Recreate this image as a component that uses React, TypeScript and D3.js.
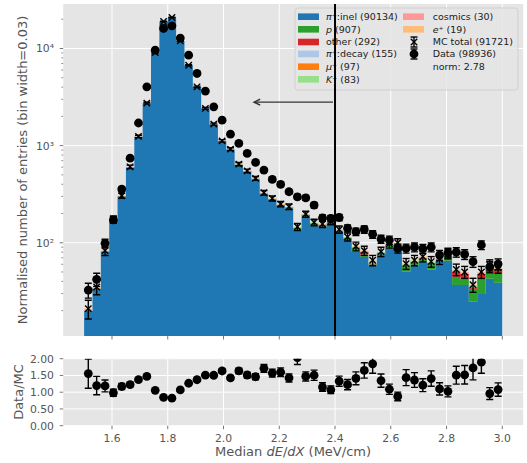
import React from "react";
import * as d3 from "d3";

// ---- data ----
const edges = d3.range(51).map((i) => +(1.5 + 0.03 * i).toFixed(2));
const xTicks = [1.6, 1.8, 2.0, 2.2, 2.4, 2.6, 2.8, 3.0];
const ratioTicks = [0, 0.5, 1, 1.5, 2];
const yMajor = [100, 1000, 10000];
const yTickLabels = ["10²", "10³", "10⁴"];

const piInel = [19.8, 33.5, 80.8, 171.6, 300, 597, 1232, 2722, 9070, 18917,
  20792, 11930, 6697, 4003, 2393, 1645, 1103, 904, 630.5, 536.4,
  447.1, 315.4, 275, 239.1, 224.7, 136.8, 186.8, 152.9, 146.9, 156.9,
  130, 109, 80.1, 71.6, 58, 76.1, 87.6, 91.7, 50.2, 58.2,
  63.7, 52.7, 63.2, 65.2, 36.7, 36.7, 24.7, 29.7, 42.7, 38.7];
const proton = [0.02, 0.05, 0.1, 0.2, 0.4, 0.8, 1.5, 3, 8, 15,
  20, 18, 15, 12, 10, 9, 8, 8, 7, 7,
  7, 6, 6, 6, 6, 5, 6, 5, 5, 5,
  3, 3, 9, 4, 2, 2, 7, 5, 8, 5,
  5, 8, 2, 9, 8, 5, 9, 13, 9, 10];
const other = [0.05, 0.1, 0.2, 0.4, 0.6, 1, 2, 3, 5, 8,
  8, 6, 5, 4, 3, 3, 2, 2, 2, 2,
  1.5, 1.5, 1, 1, 1, 1, 1, 1, 1, 1,
  1, 0.5, 0.5, 5, 1, 0.5, 1, 1, 0.5, 0.5,
  1, 1, 0.5, 0.5, 6, 6, 1, 5, 5, 5];
const piDecay = [0.1, 0.2, 0.3, 0.5, 0.8, 1.2, 2, 3, 5, 7,
  7, 5, 4, 3, 2.5, 2, 1.5, 1.5, 1.2, 1,
  1, 0.8, 0.8, 0.7, 0.7, 0.6, 0.6, 0.5, 0.5, 0.5,
  0.5, 0.5, 0.4, 0.4, 3, 0.4, 0.4, 0.3, 0.3, 0.3,
  0.3, 0.3, 0.3, 0.3, 0.3, 0.3, 0.3, 0.3, 0.3, 0.3];
const muon = [0.2, 0.4, 0.8, 1.5, 2.5, 4, 6, 8, 10, 10,
  9, 7, 5, 4, 3, 2, 1.5, 1.2, 1, 0.8,
  0.6, 0.5, 0.4, 0.4, 0.3, 0.3, 0.3, 0.3, 0.3, 0.3,
  0.2, 0.2, 0.2, 0.2, 0.2, 0.2, 0.2, 0.2, 0.2, 0.2,
  0.2, 0.2, 0.2, 0.2, 0.2, 0.2, 0.2, 0.2, 0.2, 0.2];
const kaon = [0, 0, 0, 0, 0, 0.1, 0.2, 0.4, 1, 2,
  3, 3, 3, 3, 3, 3, 3, 2.5, 2.5, 2,
  2, 2, 2, 2, 1.5, 1.5, 1.5, 1.5, 1.5, 1.5,
  1.5, 1, 1, 1, 1, 1, 1, 1, 1, 1,
  1, 1, 1, 1, 1, 1, 1, 1, 1, 1];
const cosmics = [0.5, 0.5, 0.5, 0.5, 0.5, 0.5, 0.5, 0.5, 0.5, 0.5,
  0.5, 0.5, 0.5, 0.5, 0.5, 0.5, 0.5, 0.5, 0.5, 0.5,
  0.5, 0.5, 0.5, 0.5, 0.5, 0.5, 0.5, 0.5, 0.5, 0.5,
  0.5, 0.5, 0.5, 0.5, 0.5, 0.5, 0.5, 0.5, 0.5, 0.5,
  0.5, 0.5, 0.5, 0.5, 0.5, 0.5, 0.5, 0.5, 0.5, 0.5];
const positron = [0.3, 0.3, 0.3, 0.3, 0.3, 0.3, 0.3, 0.3, 0.3, 0.3,
  0.3, 0.3, 0.3, 0.3, 0.3, 0.3, 0.3, 0.3, 0.3, 0.3,
  0.3, 0.3, 0.3, 0.3, 0.3, 0.3, 0.3, 0.3, 0.3, 0.3,
  0.3, 0.3, 0.3, 0.3, 0.3, 0.3, 0.3, 0.3, 0.3, 0.3,
  0.3, 0.3, 0.3, 0.3, 0.3, 0.3, 0.3, 0.3, 0.3, 0.3];
const dataVals = [32.6, 42, 98.6, 172, 357, 743, 1710, 4027, 9600, 16070,
  17100, 12800, 8530, 5530, 3640, 2506, 1829, 1313, 1054, 832,
  672, 560, 449, 399, 335, 297, 290, 244, 180, 178,
  182, 141, 130, 137, 122, 109, 106.6, 87.5, 87.5, 90,
  87, 90, 74.7, 78.9, 80, 76, 63.8, 94.8, 56.6, 60.4];

const legendCounts = { piInel: 90134, p: 907, other: 292, piDecay: 155, mu: 97, K: 83, cosmics: 30, e: 19, mc: 91721, data: 98936 };
const normValue = "2.78";
const cutValue = 2.4;
const arrowEnd = 2.11;
const arrowY = 2800;

const FONT = "DejaVu Sans";
const GRAY = "#555555";

const layers = [
  { key: "piInel", color: "#1f77b4", values: piInel },
  { key: "p", color: "#2ca02c", values: proton },
  { key: "other", color: "#d62728", values: other },
  { key: "piDecay", color: "#aec7e8", values: piDecay },
  { key: "mu", color: "#ff7f0e", values: muon },
  { key: "K", color: "#98df8a", values: kaon },
  { key: "cosmics", color: "#ff9896", values: cosmics },
  { key: "e", color: "#ffbb78", values: positron },
];

function legendLabel(key: string) {
  const c: any = legendCounts;
  switch (key) {
    case "piInel": return <><tspan fontStyle="italic">π</tspan>⁺:inel ({c.piInel})</>;
    case "p": return <><tspan fontStyle="italic">p</tspan> ({c.p})</>;
    case "other": return <>other ({c.other})</>;
    case "piDecay": return <><tspan fontStyle="italic">π</tspan>⁺:decay ({c.piDecay})</>;
    case "mu": return <><tspan fontStyle="italic">μ</tspan>⁺ ({c.mu})</>;
    case "K": return <><tspan fontStyle="italic">K</tspan>⁺ ({c.K})</>;
    case "cosmics": return <>cosmics ({c.cosmics})</>;
    case "e": return <><tspan fontStyle="italic">e</tspan>⁺ ({c.e})</>;
  }
  return null;
}

export default function App() {
  const W = 527, H = 463;
  const x = d3.scaleLinear().domain([1.425, 3.075]).range([63.2, 523.2]);
  const y = d3.scaleLog().domain([Math.pow(10, 1.04), Math.pow(10, 4.458)]).range([336, 4]).clamp(true);
  const yr = d3.scaleLinear().domain([0, 2]).range([425.7, 358.7]);
  const [mx0, mx1] = x.range();
  const mainTop = 4, mainBot = 336;
  const rTop = 358.7, rBot = 425.7;

  const nb = piInel.length;
  let cum = new Array(nb).fill(0);
  const stacks = layers.map((L) => {
    const bottom = cum.slice();
    const top = cum.map((c, i) => c + L.values[i]);
    cum = top;
    return { ...L, bottom, top };
  });
  const mcTotal = cum;
  const centers = d3.range(nb).map((i) => (edges[i] + edges[i + 1]) / 2);

  type P = { x: number; b: number; t: number };
  const area = d3.area<P>().x((d) => x(d.x)).y0((d) => y(Math.max(d.b, 1))).y1((d) => y(Math.max(d.t, 1)));

  const ratio = dataVals.map((d, i) => d / mcTotal[i]);
  const ratioErr = ratio.map((r, i) => r * Math.sqrt(1 / dataVals[i] + 1 / mcTotal[i]));

  const minor: number[] = [];
  [10, 100, 1000, 10000].forEach((dec) => { for (let k = 2; k <= 9; k++) minor.push(dec * k); });
  const [ymin, ymax] = y.domain();
  const minorIn = minor.filter((v) => v >= ymin && v <= ymax);

  const cap = 3.5;
  const lw = 1.4;

  const legendRows = [16.7, 29.3, 42, 54, 66.7, 79.3];
  const col1 = ["piInel", "p", "other", "piDecay", "mu", "K"];
  const col2 = ["cosmics", "e"];
  const colorOf = (k: string) => layers.find((l) => l.key === k)!.color;

  return (
    <svg width={W} height={H} style={{ position: "absolute", left: 0, top: 0 }} fontFamily={FONT}>
      <defs>
        <clipPath id="clipMain"><rect x={mx0} y={mainTop} width={mx1 - mx0} height={mainBot - mainTop} /></clipPath>
        <clipPath id="clipRatio"><rect x={mx0} y={rTop} width={mx1 - mx0} height={rBot - rTop} /></clipPath>
      </defs>
      <rect x={0} y={0} width={W} height={H} fill="white" />
      {/* main panel */}
      <rect x={mx0} y={mainTop} width={mx1 - mx0} height={mainBot - mainTop} fill="#E5E5E5" />
      {xTicks.map((t) => <line key={"gx" + t} x1={x(t)} x2={x(t)} y1={mainTop} y2={mainBot} stroke="white" strokeWidth={1} />)}
      {yMajor.map((t) => <line key={"gy" + t} x1={mx0} x2={mx1} y1={y(t)} y2={y(t)} stroke="white" strokeWidth={1} />)}
      <g clipPath="url(#clipMain)">
        {stacks.map((s) => {
          const pts: P[] = [];
          for (let i = 0; i < nb; i++) {
            pts.push({ x: edges[i], b: s.bottom[i], t: s.top[i] });
            pts.push({ x: edges[i + 1], b: s.bottom[i], t: s.top[i] });
          }
          return <path key={s.key} d={area(pts) || ""} fill={s.color} stroke="none" />;
        })}
        {/* MC total */}
        {centers.map((c, i) => {
          const T = mcTotal[i];
          const e = Math.sqrt(T);
          const cx = x(c), cy = y(T);
          const y1 = y(T + e), y2 = y(Math.max(T - e, 1));
          return (
            <g key={"mc" + i} stroke="black" strokeWidth={lw} fill="none">
              <line x1={cx} x2={cx} y1={y1} y2={y2} />
              <line x1={cx - cap} x2={cx + cap} y1={y1} y2={y1} />
              <line x1={cx - cap} x2={cx + cap} y1={y2} y2={y2} />
              <line x1={cx - 3.2} x2={cx + 3.2} y1={cy - 3.2} y2={cy + 3.2} />
              <line x1={cx - 3.2} x2={cx + 3.2} y1={cy + 3.2} y2={cy - 3.2} />
            </g>
          );
        })}
        {/* Data */}
        {centers.map((c, i) => {
          const D = dataVals[i];
          const e = Math.sqrt(D);
          const cx = x(c), cy = y(D);
          const y1 = y(D + e), y2 = y(D - e);
          return (
            <g key={"d" + i}>
              <g stroke="black" strokeWidth={lw}>
                <line x1={cx} x2={cx} y1={y1} y2={y2} />
                <line x1={cx - cap} x2={cx + cap} y1={y1} y2={y1} />
                <line x1={cx - cap} x2={cx + cap} y1={y2} y2={y2} />
              </g>
              <circle cx={cx} cy={cy} r={4.4} fill="black" />
            </g>
          );
        })}
      </g>
      {/* main axes ticks */}
      {xTicks.map((t) => <line key={"tx" + t} x1={x(t)} x2={x(t)} y1={mainBot} y2={mainBot + 3.5} stroke={GRAY} strokeWidth={0.8} />)}
      {yMajor.map((t, k) => (
        <g key={"ty" + t}>
          <line x1={mx0 - 3.5} x2={mx0} y1={y(t)} y2={y(t)} stroke={GRAY} strokeWidth={0.8} />
          <text x={54} y={y(t) + 4} textAnchor="end" fontSize={10.8} fill={GRAY}>{yTickLabels[k]}</text>
        </g>
      ))}
      {minorIn.map((t) => <line key={"mt" + t} x1={mx0 - 2} x2={mx0} y1={y(t)} y2={y(t)} stroke={GRAY} strokeWidth={0.6} />)}
      <text transform="translate(27,170) rotate(-90)" textAnchor="middle" fontSize={13} fill={GRAY}>
        Normalised number of entries (bin width=0.03)
      </text>

      {/* legend */}
      <rect x={295} y={8} width={223} height={82} rx={3} fill="#E5E5E5" fillOpacity={0.8} stroke="#CCCCCC" strokeOpacity={0.8} strokeWidth={1} />
      {col1.map((k, r) => (
        <g key={"l1" + k}>
          <rect x={298} y={legendRows[r] - 3.3} width={21} height={6.6} fill={colorOf(k)} />
          <text x={326} y={legendRows[r] + 3.4} fontSize={9.5} fill="#222">{legendLabel(k)}</text>
        </g>
      ))}
      {col2.map((k, r) => (
        <g key={"l2" + k}>
          <rect x={403} y={legendRows[r] - 3.3} width={21} height={6.6} fill={colorOf(k)} />
          <text x={432.7} y={legendRows[r] + 3.4} fontSize={9.5} fill="#222">{legendLabel(k)}</text>
        </g>
      ))}
      <g stroke="black" strokeWidth={lw}>
        <line x1={414} x2={414} y1={37} y2={47} />
        <line x1={410.5} x2={417.5} y1={37} y2={37} />
        <line x1={410.5} x2={417.5} y1={47} y2={47} />
        <line x1={410.8} x2={417.2} y1={38.8} y2={45.2} />
        <line x1={410.8} x2={417.2} y1={45.2} y2={38.8} />
        <line x1={414} x2={414} y1={49} y2={59} />
        <line x1={410.5} x2={417.5} y1={49} y2={49} />
        <line x1={410.5} x2={417.5} y1={59} y2={59} />
      </g>
      <circle cx={414} cy={54} r={4.4} fill="black" />
      <text x={432.7} y={42 + 3.4} fontSize={9.5} fill="#222">MC total ({legendCounts.mc})</text>
      <text x={432.7} y={54 + 3.4} fontSize={9.5} fill="#222">Data ({legendCounts.data})</text>
      <text x={432.7} y={66.7 + 3.4} fontSize={9.5} fill="#222">norm: {normValue}</text>

      {/* cut line and arrow */}
      <line x1={x(cutValue)} x2={x(cutValue)} y1={mainTop} y2={mainBot} stroke="black" strokeWidth={2} />
      <line x1={x(cutValue) - 2} x2={x(arrowEnd)} y1={y(arrowY)} y2={y(arrowY)} stroke="#333" strokeWidth={1.3} />
      <path d={`M${x(arrowEnd) + 6},${y(arrowY) - 3} L${x(arrowEnd)},${y(arrowY)} L${x(arrowEnd) + 6},${y(arrowY) + 3}`} fill="none" stroke="#333" strokeWidth={1.5} />

      {/* ratio panel */}
      <rect x={mx0} y={rTop} width={mx1 - mx0} height={rBot - rTop} fill="#E5E5E5" />
      {xTicks.map((t) => <line key={"rgx" + t} x1={x(t)} x2={x(t)} y1={rTop} y2={rBot} stroke="white" strokeWidth={1} />)}
      {ratioTicks.map((t) => <line key={"rgy" + t} x1={mx0} x2={mx1} y1={yr(t)} y2={yr(t)} stroke="white" strokeWidth={1} />)}
      <g clipPath="url(#clipRatio)">
        {centers.map((c, i) => {
          const r = ratio[i], e = ratioErr[i];
          const cx = x(c);
          const y1 = yr(r + e), y2 = yr(r - e);
          return (
            <g key={"r" + i}>
              <g stroke="black" strokeWidth={lw}>
                <line x1={cx} x2={cx} y1={y1} y2={y2} />
                <line x1={cx - cap} x2={cx + cap} y1={y1} y2={y1} />
                <line x1={cx - cap} x2={cx + cap} y1={y2} y2={y2} />
              </g>
              <circle cx={cx} cy={yr(r)} r={4.4} fill="black" />
            </g>
          );
        })}
      </g>
      {xTicks.map((t) => (
        <g key={"rtx" + t}>
          <line x1={x(t)} x2={x(t)} y1={rBot} y2={rBot + 3.5} stroke={GRAY} strokeWidth={0.8} />
          <text x={x(t)} y={441.7} textAnchor="middle" fontSize={10.8} fill={GRAY}>{d3.format(".1f")(t)}</text>
        </g>
      ))}
      {ratioTicks.map((t) => (
        <g key={"rty" + t}>
          <line x1={mx0 - 3.5} x2={mx0} y1={yr(t)} y2={yr(t)} stroke={GRAY} strokeWidth={0.8} />
          <text x={54} y={yr(t) + 3.9} textAnchor="end" fontSize={10.8} fill={GRAY}>{d3.format(".2f")(t)}</text>
        </g>
      ))}
      <text transform="translate(22.5,392) rotate(-90)" textAnchor="middle" fontSize={13} fill={GRAY}>Data/MC</text>
      <text x={293} y={456} textAnchor="middle" fontSize={13} fill={GRAY}>
        Median <tspan fontStyle="italic">dE</tspan>/<tspan fontStyle="italic">dX</tspan> (MeV/cm)
      </text>
    </svg>
  );
}
